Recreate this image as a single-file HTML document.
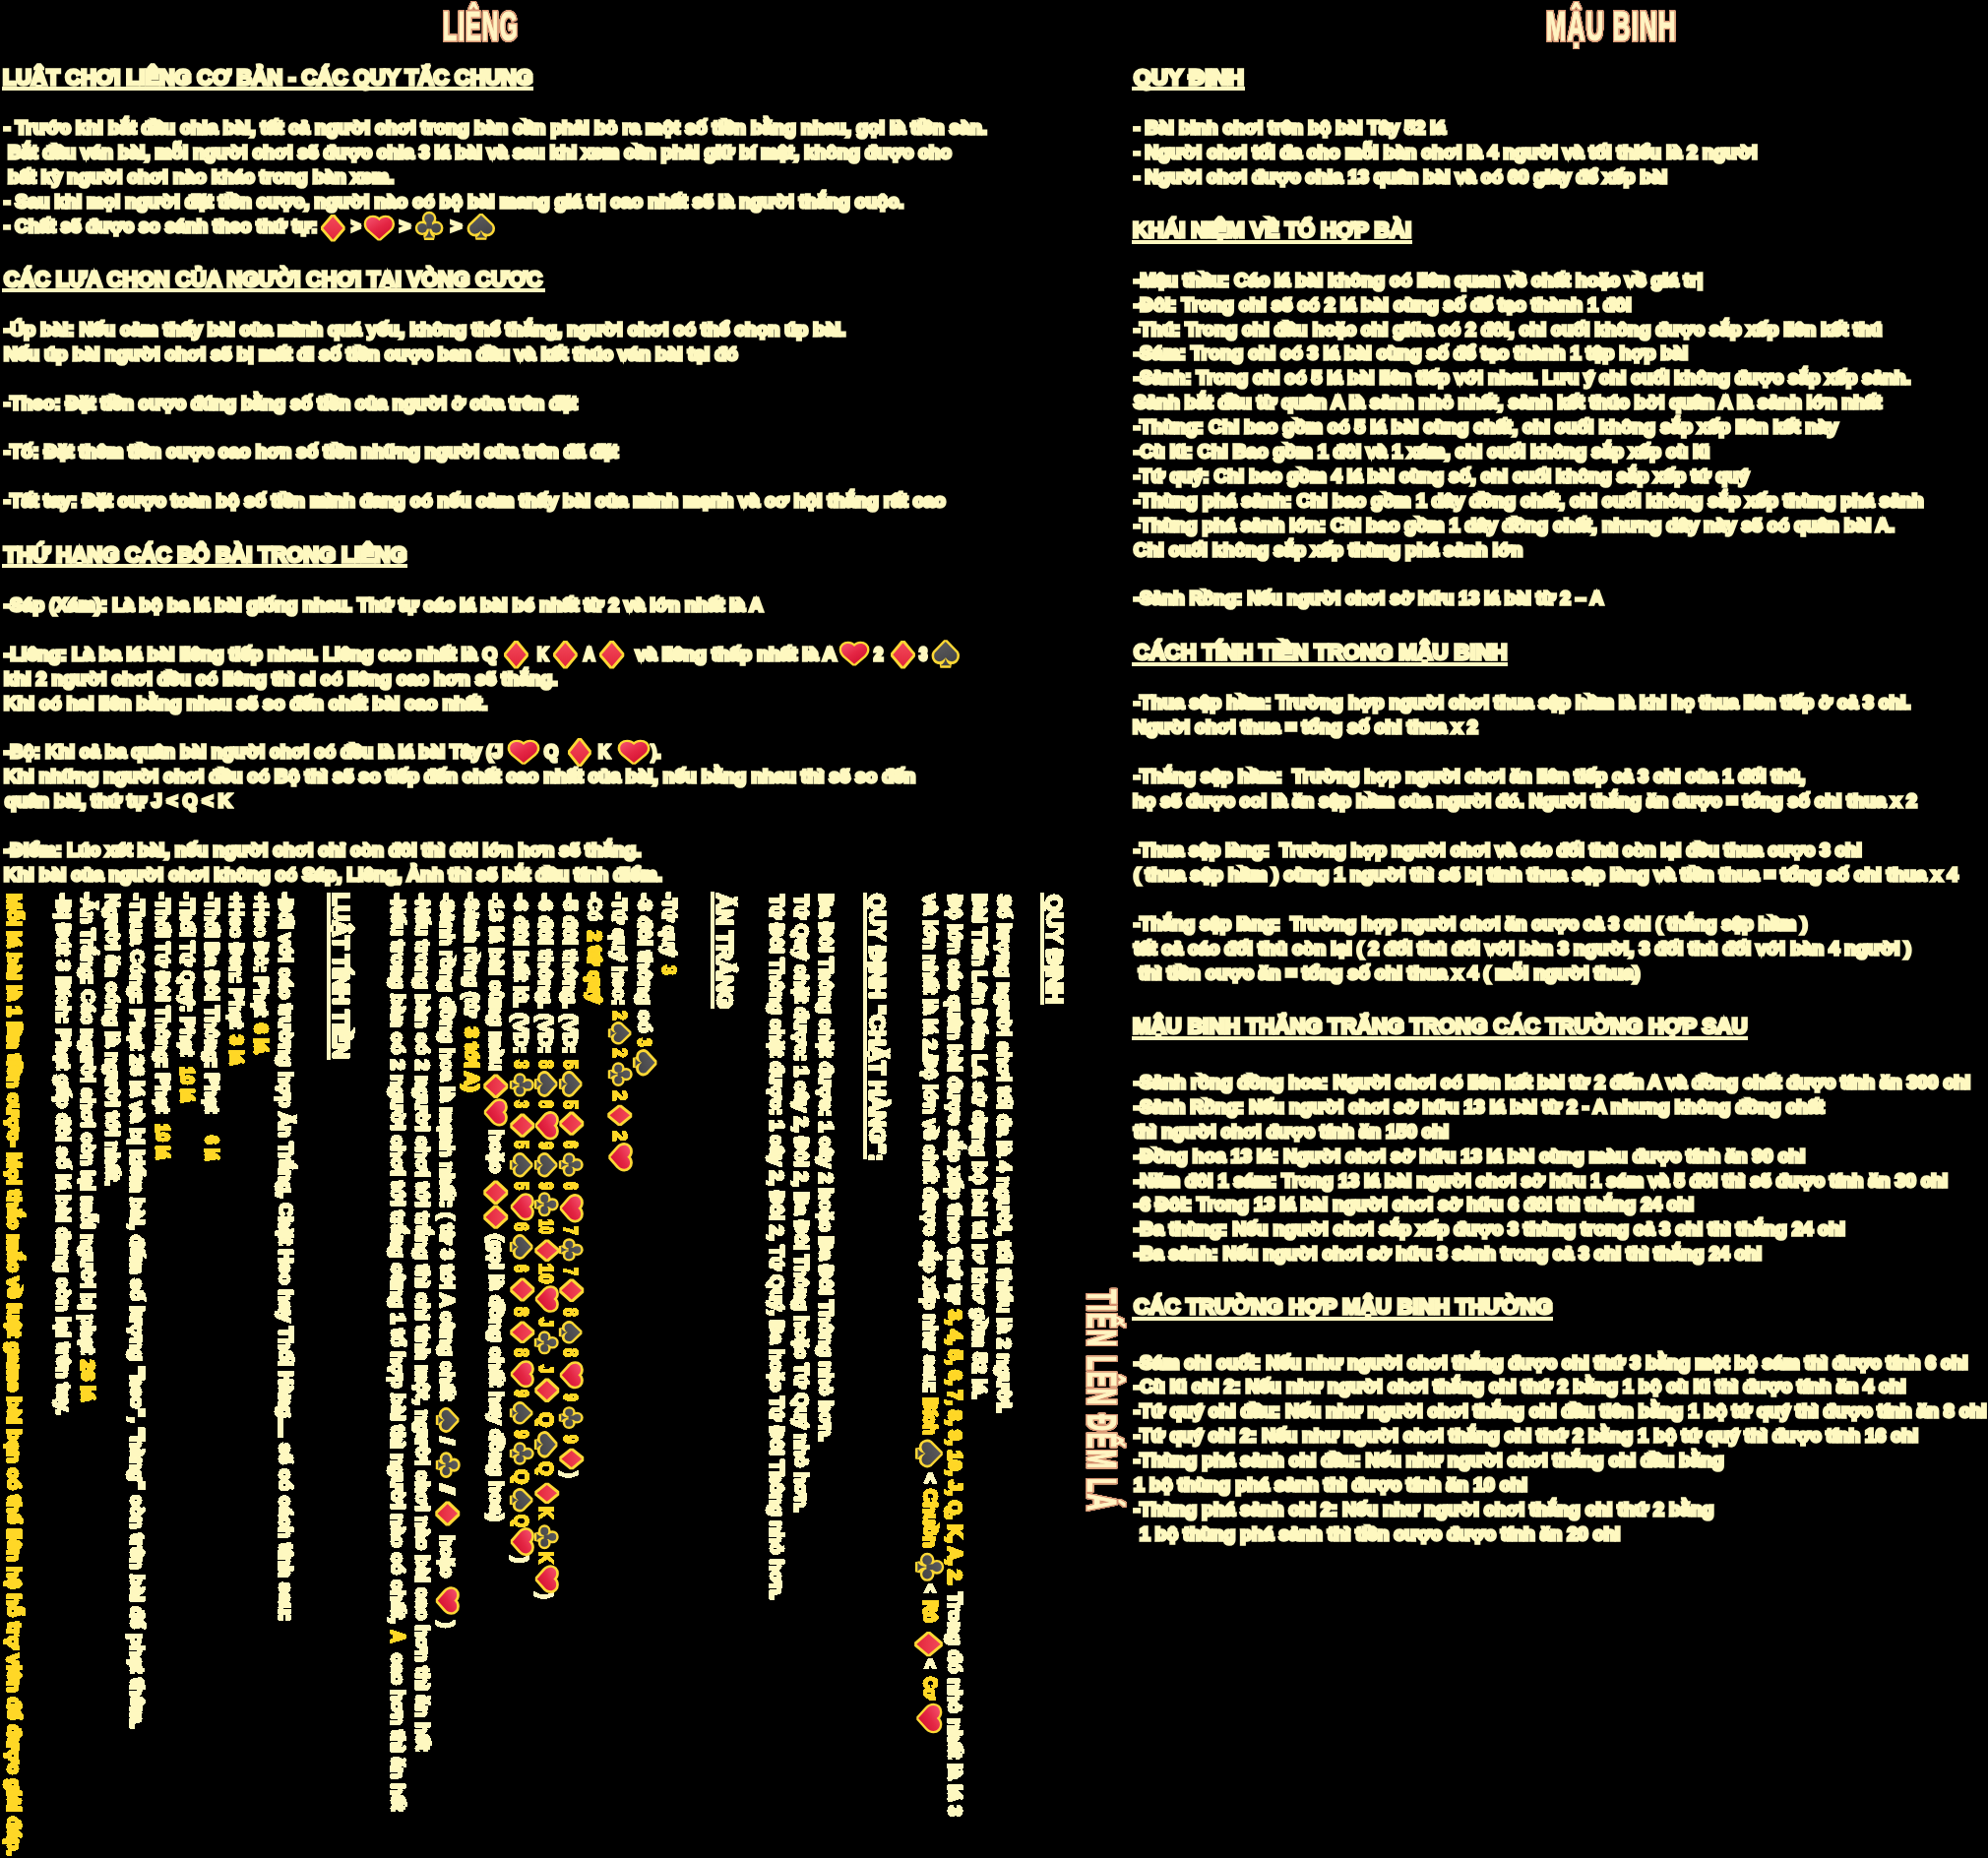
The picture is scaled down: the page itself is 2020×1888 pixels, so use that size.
<!DOCTYPE html>
<html><head><meta charset="utf-8"><title>rules</title><style>
html,body{margin:0;padding:0;background:#000;}
#p{position:relative;width:2020px;height:1888px;overflow:hidden;will-change:transform;font-family:"Liberation Sans",sans-serif;font-weight:bold;}
.t,.tt{position:absolute;white-space:pre;line-height:1;transform-origin:0 0;color:#fef8c0;-webkit-text-stroke:3.4px #fef8c0;}
.t.g{color:#ffd726;-webkit-text-stroke-color:#ffd726;}
#rt .t{-webkit-text-stroke-width:3.0px;}
#rt .t.n{-webkit-text-stroke-width:2.2px;}
.tt{color:#fff5c3;-webkit-text-stroke:1.2px #fff5c3;letter-spacing:2.5px;}
.tw{position:absolute;left:0;top:0;width:0;height:0;filter:drop-shadow(1px 0 0 #d6906f) drop-shadow(-1px 0 0 #d6906f) drop-shadow(0 1px 0 #d6906f) drop-shadow(0 -1px 0 #d6906f) drop-shadow(0.9px 0 0 #f6dcae) drop-shadow(0.8px 0 0 #d6906f);}
.u{position:absolute;height:4px;background:#fef8c0;}
.i{position:absolute;overflow:visible;}
#rt{position:absolute;left:0;top:0;width:1888px;height:1160px;filter:url(#crisp);}
#r{position:absolute;left:1160px;top:0;width:0;height:0;transform-origin:0 0;transform:rotate(90deg);}
</style></head><body>
<div id="p">
<svg width="0" height="0" style="position:absolute">
<defs>
<linearGradient id="gr" x1="0.1" y1="0" x2="0.8" y2="1"><stop offset="0" stop-color="#f4506c"/><stop offset="0.5" stop-color="#e42644"/><stop offset="1" stop-color="#d20f30"/></linearGradient>
<linearGradient id="gd" x1="0" y1="0" x2="0" y2="1"><stop offset="0" stop-color="#f2485a"/><stop offset="1" stop-color="#e3263c"/></linearGradient>
<linearGradient id="gk" gradientUnits="userSpaceOnUse" x1="8" y1="2" x2="18" y2="28"><stop offset="0" stop-color="#5c5c5f"/><stop offset="1" stop-color="#414144"/></linearGradient>
<symbol id="d" overflow="visible" viewBox="0 0 25 28.3" preserveAspectRatio="none"><path d="M12.5 1.8 L23 14.15 L12.5 26.5 L2 14.15 Z" fill="#fdd835" stroke="#fdd835" stroke-width="5.2" stroke-linejoin="bevel"/><path d="M12.5 2.3 L22.7 14.15 L12.5 26 L2.3 14.15 Z" fill="url(#gd)"/></symbol>
<symbol id="h" overflow="visible" viewBox="0 0 31 26.3" preserveAspectRatio="none"><path id="hp" d="M15.5 5.3 C13.6 3 11.6 2.1 9 2.1 C5 2.1 2.1 4.9 2.1 8.6 C2.1 11.2 3.2 13.2 5.2 15.1 L15.5 24.2 L25.8 15.1 C27.8 13.2 28.9 11.2 28.9 8.6 C28.9 4.9 26 2.1 22 2.1 C19.4 2.1 17.4 3 15.5 5.3 Z" fill="#fdd835" stroke="#fdd835" stroke-width="4.9" stroke-linejoin="bevel"/><path d="M15.5 5.3 C13.6 3 11.6 2.1 9 2.1 C5 2.1 2.1 4.9 2.1 8.6 C2.1 11.2 3.2 13.2 5.2 15.1 L15.5 24.2 L25.8 15.1 C27.8 13.2 28.9 11.2 28.9 8.6 C28.9 4.9 26 2.1 22 2.1 C19.4 2.1 17.4 3 15.5 5.3 Z" fill="url(#gr)"/></symbol>
<symbol id="c" overflow="visible" viewBox="0 0 29.4 29.4" preserveAspectRatio="none"><g stroke="#fdd835" stroke-width="4.9" stroke-linejoin="bevel" fill="#fdd835"><circle cx="14.4" cy="7.2" r="5"/><circle cx="7.2" cy="17.2" r="5"/><circle cx="21.6" cy="17.2" r="5"/><path d="M11 10 L18 10 L18 18 L11 18 Z"/><path d="M14.4 16 C14.4 22 12.5 25.6 9.4 27.2 L19.4 27.2 C16.3 25.6 14.4 22 14.4 16 Z"/></g><g fill="url(#gk)"><circle cx="14.4" cy="7.2" r="5"/><circle cx="7.2" cy="17.2" r="5"/><circle cx="21.6" cy="17.2" r="5"/><path d="M11.5 10 L17.3 10 L17.3 18 L11.5 18 Z"/><path d="M14.4 16 C14.4 22 12.5 25.6 9.4 27.2 L19.4 27.2 C16.3 25.6 14.4 22 14.4 16 Z"/></g></symbol>
<symbol id="s" overflow="visible" viewBox="0 0 28.3 28.3" preserveAspectRatio="none"><g stroke="#fdd835" stroke-width="4.9" stroke-linejoin="bevel" fill="#fdd835"><path d="M14.15 2.9 L25.3 13.6 C26.4 15.2 26.4 18 25.2 19.8 C23.8 21.9 21 22.6 18.6 21.8 C16.8 21.2 15.3 20 14.15 18.2 C13 20 11.5 21.2 9.7 21.8 C7.3 22.6 4.5 21.9 3.1 19.8 C1.9 18 1.9 15.2 3 13.6 Z"/><path d="M14.15 17 C14.15 21.5 12.2 24.6 8.6 26 L19.7 26 C16.1 24.6 14.15 21.5 14.15 17 Z"/></g><g fill="url(#gk)"><path d="M14.15 2.9 L25.3 13.6 C26.4 15.2 26.4 18 25.2 19.8 C23.8 21.9 21 22.6 18.6 21.8 C16.8 21.2 15.3 20 14.15 18.2 C13 20 11.5 21.2 9.7 21.8 C7.3 22.6 4.5 21.9 3.1 19.8 C1.9 18 1.9 15.2 3 13.6 Z"/><path d="M14.15 17 C14.15 21.5 12.2 24.6 8.6 26 L19.7 26 C16.1 24.6 14.15 21.5 14.15 17 Z"/></g></symbol>
<symbol id="d2" overflow="visible" viewBox="0 0 25 28.3" preserveAspectRatio="none"><path d="M12.5 1.8 L23 14.15 L12.5 26.5 L2 14.15 Z" fill="#fdd835" stroke="#fdd835" stroke-width="6.4" stroke-linejoin="bevel"/><path d="M12.5 2.3 L22.7 14.15 L12.5 26 L2.3 14.15 Z" fill="url(#gd)"/></symbol>
<symbol id="h2" overflow="visible" viewBox="0 0 31 26.3" preserveAspectRatio="none"><path d="M15.5 5.3 C13.6 3 11.6 2.1 9 2.1 C5 2.1 2.1 4.9 2.1 8.6 C2.1 11.2 3.2 13.2 5.2 15.1 L15.5 24.2 L25.8 15.1 C27.8 13.2 28.9 11.2 28.9 8.6 C28.9 4.9 26 2.1 22 2.1 C19.4 2.1 17.4 3 15.5 5.3 Z" fill="#fdd835" stroke="#fdd835" stroke-width="6.2" stroke-linejoin="bevel"/><path d="M15.5 5.3 C13.6 3 11.6 2.1 9 2.1 C5 2.1 2.1 4.9 2.1 8.6 C2.1 11.2 3.2 13.2 5.2 15.1 L15.5 24.2 L25.8 15.1 C27.8 13.2 28.9 11.2 28.9 8.6 C28.9 4.9 26 2.1 22 2.1 C19.4 2.1 17.4 3 15.5 5.3 Z" fill="url(#gr)"/></symbol>
<symbol id="c2" overflow="visible" viewBox="0 0 29.4 29.4" preserveAspectRatio="none"><g stroke="#fdd835" stroke-width="6.2" stroke-linejoin="bevel" fill="#fdd835"><circle cx="14.4" cy="7.2" r="5"/><circle cx="7.2" cy="17.2" r="5"/><circle cx="21.6" cy="17.2" r="5"/><path d="M11 10 L18 10 L18 18 L11 18 Z"/><path d="M14.4 16 C14.4 22 12.5 25.6 9.4 27.2 L19.4 27.2 C16.3 25.6 14.4 22 14.4 16 Z"/></g><g fill="url(#gk)"><circle cx="14.4" cy="7.2" r="5"/><circle cx="7.2" cy="17.2" r="5"/><circle cx="21.6" cy="17.2" r="5"/><path d="M11.5 10 L17.3 10 L17.3 18 L11.5 18 Z"/><path d="M14.4 16 C14.4 22 12.5 25.6 9.4 27.2 L19.4 27.2 C16.3 25.6 14.4 22 14.4 16 Z"/></g></symbol>
<symbol id="s2" overflow="visible" viewBox="0 0 28.3 28.3" preserveAspectRatio="none"><g stroke="#fdd835" stroke-width="6.2" stroke-linejoin="bevel" fill="#fdd835"><path d="M14.15 2.9 L25.3 13.6 C26.4 15.2 26.4 18 25.2 19.8 C23.8 21.9 21 22.6 18.6 21.8 C16.8 21.2 15.3 20 14.15 18.2 C13 20 11.5 21.2 9.7 21.8 C7.3 22.6 4.5 21.9 3.1 19.8 C1.9 18 1.9 15.2 3 13.6 Z"/><path d="M14.15 17 C14.15 21.5 12.2 24.6 8.6 26 L19.7 26 C16.1 24.6 14.15 21.5 14.15 17 Z"/></g><g fill="url(#gk)"><path d="M14.15 2.9 L25.3 13.6 C26.4 15.2 26.4 18 25.2 19.8 C23.8 21.9 21 22.6 18.6 21.8 C16.8 21.2 15.3 20 14.15 18.2 C13 20 11.5 21.2 9.7 21.8 C7.3 22.6 4.5 21.9 3.1 19.8 C1.9 18 1.9 15.2 3 13.6 Z"/><path d="M14.15 17 C14.15 21.5 12.2 24.6 8.6 26 L19.7 26 C16.1 24.6 14.15 21.5 14.15 17 Z"/></g></symbol>
<filter id="crisp" x="0" y="0" width="100%" height="100%" color-interpolation-filters="sRGB"><feComponentTransfer><feFuncA type="discrete" tableValues="0 1"/></feComponentTransfer></filter>
</defs></svg>
<div class="t" style="left:2.69px;top:67.58px;font-size:22px;transform:scaleX(0.9824)">LUẬT CHƠI LIÊNG CƠ BẢN - CÁC QUY TẮC CHUNG</div>
<div class="u" style="left:2.00px;top:88.10px;width:540.00px"></div>
<div class="t" style="left:4.21px;top:119.92px;font-size:19px;transform:scaleX(1.0050)">- Trước khi bắt đầu chia bài, tất cả người chơi trong bàn cần phải bỏ ra một số tiền bằng nhau, gọi là tiền sàn.</div>
<div class="t" style="left:8.29px;top:144.82px;font-size:19px;transform:scaleX(0.9909)">Bắt đầu ván bài, mỗi người chơi sẽ được chia 3 lá bài và sau khi xem cần phải giữ bí mật, không được cho</div>
<div class="t" style="left:8.30px;top:169.72px;font-size:19px;transform:scaleX(1.0025)">bất kỳ người chơi nào khác trong bàn xem.</div>
<div class="t" style="left:4.20px;top:194.62px;font-size:19px;transform:scaleX(0.9975)">- Sau khi mọi người đặt tiền cược, người nào có bộ bài mang giá trị cao nhất sẽ là người thắng cuộc.</div>
<div class="t" style="left:4.16px;top:219.52px;font-size:19px;transform:scaleX(0.9767)">- Chất sẽ được so sánh theo thứ tự:</div>
<svg class="i" style="left:326.00px;top:218.00px" width="24.70" height="27.70" viewBox="0 0 25 28.3" preserveAspectRatio="none"><use href="#d"/></svg>
<div class="t" style="left:357.13px;top:219.52px;font-size:19px;transform:scaleX(0.8403)">&gt;</div>
<svg class="i" style="left:370.30px;top:219.00px" width="30.70" height="25.70" viewBox="0 0 31 26.3" preserveAspectRatio="none"><use href="#h"/></svg>
<div class="t" style="left:405.65px;top:219.52px;font-size:19px;transform:scaleX(0.9722)">&gt;</div>
<svg class="i" style="left:422.00px;top:215.00px" width="28.80" height="28.70" viewBox="0 0 29.4 29.4" preserveAspectRatio="none"><use href="#c"/></svg>
<div class="t" style="left:458.48px;top:219.52px;font-size:19px;transform:scaleX(0.9861)">&gt;</div>
<svg class="i" style="left:475.00px;top:216.00px" width="27.60" height="27.70" viewBox="0 0 28.3 28.3" preserveAspectRatio="none"><use href="#s"/></svg>
<div class="t" style="left:3.67px;top:272.68px;font-size:22px;transform:scaleX(0.9824)">CÁC LỰA CHỌN CỦA NGƯỜI CHƠI TẠI VÒNG CƯỢC</div>
<div class="u" style="left:2.00px;top:293.20px;width:552.00px"></div>
<div class="t" style="left:4.22px;top:324.92px;font-size:19px;transform:scaleX(1.0095)">-Úp bài: Nếu cảm thấy bài của mình quá yếu, không thể thắng, người chơi có thể chọn úp bài.</div>
<div class="t" style="left:3.70px;top:349.82px;font-size:19px;transform:scaleX(1.0027)">Nếu úp bài người chơi sẽ bị mất đi số tiền cược ban đầu và kết thúc ván bài tại đó</div>
<div class="t" style="left:4.18px;top:399.62px;font-size:19px;transform:scaleX(0.9897)">-Theo: Đặt tiền cược đúng bằng số tiền của người ở cửa trên đặt</div>
<div class="t" style="left:4.18px;top:449.42px;font-size:19px;transform:scaleX(0.9894)">-Tố: Đặt thêm tiền cược cao hơn số tiền những người cửa trên đã đặt</div>
<div class="t" style="left:4.21px;top:499.22px;font-size:19px;transform:scaleX(1.0062)">-Tất tay: Đặt cược toàn bộ số tiền mình đang có nếu cảm thấy bài của mình mạnh và cơ hội thắng rất cao</div>
<div class="t" style="left:3.68px;top:552.58px;font-size:22px;transform:scaleX(0.9882)">THỨ HẠNG CÁC BỘ BÀI TRONG LIÊNG</div>
<div class="u" style="left:2.00px;top:573.10px;width:411.60px"></div>
<div class="t" style="left:4.19px;top:604.92px;font-size:19px;transform:scaleX(0.9949)">-Sáp (Xám): Là bộ ba lá bài giống nhau. Thứ tự các lá bài bé nhất từ 2 và lớn nhất là A</div>
<div class="t" style="left:4.21px;top:654.72px;font-size:19px;transform:scaleX(1.0077)">-Liêng: Là ba lá bài liêng tiếp nhau. Liêng cao nhất là Q</div>
<svg class="i" style="left:511.90px;top:650.50px" width="24.90" height="28.70" viewBox="0 0 25 28.3" preserveAspectRatio="none"><use href="#d"/></svg>
<div class="t" style="left:545.96px;top:654.72px;font-size:19px;transform:scaleX(0.7988)">K</div>
<svg class="i" style="left:562.40px;top:650.50px" width="24.80" height="28.70" viewBox="0 0 25 28.3" preserveAspectRatio="none"><use href="#d"/></svg>
<div class="t" style="left:592.61px;top:654.72px;font-size:19px;transform:scaleX(0.8276)">A</div>
<svg class="i" style="left:609.00px;top:650.50px" width="25.30" height="28.70" viewBox="0 0 25 28.3" preserveAspectRatio="none"><use href="#d"/></svg>
<div class="t" style="left:646.03px;top:654.72px;font-size:19px;transform:scaleX(1.0150)">và liêng thấp nhất là A</div>
<svg class="i" style="left:852.70px;top:651.80px" width="30.10" height="24.80" viewBox="0 0 31 26.3" preserveAspectRatio="none"><use href="#h"/></svg>
<div class="t" style="left:887.70px;top:654.72px;font-size:19px;transform:scaleX(0.8806)">2</div>
<svg class="i" style="left:905.00px;top:650.50px" width="25.00" height="28.70" viewBox="0 0 25 28.3" preserveAspectRatio="none"><use href="#d"/></svg>
<div class="t" style="left:933.83px;top:654.72px;font-size:19px;transform:scaleX(0.7836)">3</div>
<svg class="i" style="left:947.40px;top:649.00px" width="27.60" height="29.70" viewBox="0 0 28.3 28.3" preserveAspectRatio="none"><use href="#s"/></svg>
<div class="t" style="left:3.70px;top:679.62px;font-size:19px;transform:scaleX(1.0007)">khi 2 người chơi đều có liêng thì ai có liêng cao hơn sẽ thắng.</div>
<div class="t" style="left:3.70px;top:704.52px;font-size:19px;transform:scaleX(1.0050)">Khi có hai liên bằng nhau sẽ so đến chất bài cao nhất.</div>
<div class="t" style="left:4.16px;top:754.32px;font-size:19px;transform:scaleX(0.9744)">-Bộ: Khi cả ba quân bài người chơi có đều là lá bài Tây (J</div>
<svg class="i" style="left:515.80px;top:751.50px" width="32.00" height="25.00" viewBox="0 0 31 26.3" preserveAspectRatio="none"><use href="#h"/></svg>
<div class="t" style="left:552.93px;top:754.32px;font-size:19px;transform:scaleX(0.9598)">Q</div>
<svg class="i" style="left:576.70px;top:750.00px" width="23.90" height="29.00" viewBox="0 0 25 28.3" preserveAspectRatio="none"><use href="#d"/></svg>
<div class="t" style="left:607.60px;top:754.32px;font-size:19px;transform:scaleX(0.8537)">K</div>
<svg class="i" style="left:627.50px;top:751.50px" width="32.10" height="25.00" viewBox="0 0 31 26.3" preserveAspectRatio="none"><use href="#h"/></svg>
<div class="t" style="left:661.89px;top:754.32px;font-size:19px;transform:scaleX(0.8159)">).</div>
<div class="t" style="left:3.70px;top:779.22px;font-size:19px;transform:scaleX(0.9997)">Khi những người chơi đều có Bộ thì sẽ so tiếp đến chất cao nhất của bài, nếu bằng nhau thì sẽ so đến</div>
<div class="t" style="left:4.68px;top:804.12px;font-size:19px;transform:scaleX(0.9862)">quân bài, thứ tự J &lt; Q &lt; K</div>
<div class="t" style="left:4.19px;top:853.92px;font-size:19px;transform:scaleX(0.9969)">-Điểm: Lúc xét bài, nếu người chơi chỉ còn đôi thì đôi lớn hơn sẽ thắng.</div>
<div class="t" style="left:3.70px;top:878.82px;font-size:19px;transform:scaleX(0.9984)">Khi bài của người chơi không có Sáp, Liêng, Ảnh thì sẽ bắt đầu tính điểm.</div>
<div class="t" style="left:1151.78px;top:67.58px;font-size:22px;transform:scaleX(1.0448)">QUY ĐỊNH</div>
<div class="u" style="left:1150.00px;top:88.10px;width:115.00px"></div>
<div class="t" style="left:1151.68px;top:119.92px;font-size:19px;transform:scaleX(0.9884)">- Bài binh chơi trên bộ bài Tây 52 lá</div>
<div class="t" style="left:1151.69px;top:144.82px;font-size:19px;transform:scaleX(0.9949)">- Người chơi tối đa cho mỗi bàn chơi là 4 người và tối thiểu là 2 người</div>
<div class="t" style="left:1151.69px;top:169.72px;font-size:19px;transform:scaleX(0.9937)">- Người chơi được chia 13 quân bài và có 60 giây để xếp bài</div>
<div class="t" style="left:1150.69px;top:222.98px;font-size:22px;transform:scaleX(0.9891)">KHÁI NIỆM VỀ TỔ HỢP BÀI</div>
<div class="u" style="left:1150.00px;top:243.50px;width:284.60px"></div>
<div class="t" style="left:1151.72px;top:274.72px;font-size:19px;transform:scaleX(1.0102)">-Mậu thầu: Các lá bài không có liên quan về chất hoặc về giá trị</div>
<div class="t" style="left:1151.71px;top:299.62px;font-size:19px;transform:scaleX(1.0042)">-Đôi: Trong chi sẽ có 2 lá bài cùng số để tạo thành 1 đôi</div>
<div class="t" style="left:1151.69px;top:324.52px;font-size:19px;transform:scaleX(0.9950)">-Thú: Trong chi đầu hoặc chi giữa có 2 đôi, chi cuối không được sắp xếp liên kết thú</div>
<div class="t" style="left:1151.71px;top:349.42px;font-size:19px;transform:scaleX(1.0031)">-Sám: Trong chi có 3 lá bài cùng số để tạo thành 1 tập hợp bài</div>
<div class="t" style="left:1151.68px;top:374.32px;font-size:19px;transform:scaleX(0.9896)">-Sảnh: Trong chi có 5 lá bài liên tiếp với nhau. Lưu ý chi cuối không được sắp xếp sảnh.</div>
<div class="t" style="left:1151.70px;top:399.22px;font-size:19px;transform:scaleX(1.0025)">Sảnh bắt đầu từ quân A là sảnh nhỏ nhất, sảnh kết thúc bởi quân A là sảnh lớn nhất</div>
<div class="t" style="left:1151.71px;top:424.12px;font-size:19px;transform:scaleX(1.0039)">-Thùng: Chi bao gồm có 5 lá bài cùng chất, chi cuối không sắp xếp liên kết này</div>
<div class="t" style="left:1151.69px;top:449.02px;font-size:19px;transform:scaleX(0.9950)">-Cù lũ: Chi Bao gồm 1 đôi và 1 xám, chi cuối không sắp xếp cù lũ</div>
<div class="t" style="left:1151.69px;top:473.92px;font-size:19px;transform:scaleX(0.9914)">-Tứ quý: Chi bao gồm 4 lá bài cùng số, chi cuối không sắp xếp tứ quý</div>
<div class="t" style="left:1151.71px;top:498.82px;font-size:19px;transform:scaleX(1.0068)">-Thùng phá sảnh: Chi bao gồm 1 dây đồng chất, chi cuối không sắp xếp thùng phá sảnh</div>
<div class="t" style="left:1151.70px;top:523.72px;font-size:19px;transform:scaleX(1.0001)">-Thùng phá sảnh lớn: Chi bao gồm 1 dây đồng chất, nhưng dây này sẽ có quân bài A.</div>
<div class="t" style="left:1151.70px;top:548.62px;font-size:19px;transform:scaleX(0.9984)">Chi cuối không sắp xếp thùng phá sảnh lớn</div>
<div class="t" style="left:1151.66px;top:598.42px;font-size:19px;transform:scaleX(0.9767)">-Sảnh Rồng: Nếu người chơi sở hữu 13 lá bài từ 2 – A</div>
<div class="t" style="left:1151.70px;top:652.28px;font-size:22px;transform:scaleX(1.0016)">CÁCH TÍNH TIỀN TRONG MẬU BINH</div>
<div class="u" style="left:1150.00px;top:672.80px;width:382.00px"></div>
<div class="t" style="left:1151.69px;top:704.42px;font-size:19px;transform:scaleX(0.9931)">-Thua sập hầm: Trường hợp người chơi thua sập hầm là khi họ thua liên tiếp ở cả 3 chi.</div>
<div class="t" style="left:1150.70px;top:729.32px;font-size:19px;transform:scaleX(1.0032)">Người chơi thua = tổng số chi thua x 2</div>
<div class="t" style="left:1151.69px;top:779.12px;font-size:19px;transform:scaleX(0.9923)">-Thắng sập hầm: &nbsp;Trường hợp người chơi ăn liên tiếp cả 3 chi của 1 đối thủ,</div>
<div class="t" style="left:1150.69px;top:804.02px;font-size:19px;transform:scaleX(0.9918)">họ sẽ được coi là ăn sập hầm của người đó. Người thắng ăn được = tổng số chi thua x 2</div>
<div class="t" style="left:1151.67px;top:853.92px;font-size:19px;transform:scaleX(0.9826)">-Thua sập làng: &nbsp;Trường hợp người chơi và các đối thủ còn lại đều thua cược 3 chi</div>
<div class="t" style="left:1151.72px;top:878.82px;font-size:19px;transform:scaleX(1.0102)">( thua sập hầm ) cùng 1 người thì sẽ bị tính thua sập làng và tiền thua = tổng số chi thua x 4</div>
<div class="t" style="left:1151.66px;top:928.82px;font-size:19px;transform:scaleX(0.9793)">-Thắng sập làng: &nbsp;Trường hợp người chơi ăn cược cả 3 chi ( thắng sập hầm )</div>
<div class="t" style="left:1151.71px;top:953.72px;font-size:19px;transform:scaleX(1.0041)">tất cả các đối thủ còn lại ( 2 đối thủ đối với bàn 3 người, 3 đối thủ đối với bàn 4 người )</div>
<div class="t" style="left:1157.01px;top:978.62px;font-size:19px;transform:scaleX(1.0050)">thì tiền cược ăn = tổng số chi thua x 4 ( mỗi người thua)</div>
<div class="t" style="left:1150.69px;top:1032.18px;font-size:22px;transform:scaleX(0.9897)">MẬU BINH THẮNG TRẮNG TRONG CÁC TRƯỜNG HỢP SAU</div>
<div class="u" style="left:1150.00px;top:1052.70px;width:626.40px"></div>
<div class="t" style="left:1151.70px;top:1089.92px;font-size:19px;transform:scaleX(1.0002)">-Sảnh rồng đồng hoa: Người chơi có liên kết bài từ 2 đến A và đồng chất được tính ăn 300 chi</div>
<div class="t" style="left:1151.69px;top:1114.82px;font-size:19px;transform:scaleX(0.9917)">-Sảnh Rồng: Nếu người chơi sở hữu 13 lá bài từ 2 - A nhưng không đồng chất</div>
<div class="t" style="left:1151.69px;top:1139.72px;font-size:19px;transform:scaleX(0.9927)">thì người chơi được tính ăn 150 chi</div>
<div class="t" style="left:1151.69px;top:1164.62px;font-size:19px;transform:scaleX(0.9952)">-Đồng hoa 13 lá: Người chơi sở hữu 13 lá bài cùng màu được tính ăn 90 chi</div>
<div class="t" style="left:1151.68px;top:1189.52px;font-size:19px;transform:scaleX(0.9900)">-Năm đôi 1 sám: Trong 13 lá bài người chơi sở hữu 1 sám và 5 đôi thì sẽ được tính ăn 30 chi</div>
<div class="t" style="left:1151.70px;top:1214.42px;font-size:19px;transform:scaleX(0.9975)">-6 Đôi: Trong 13 lá bài người chơi sở hữu 6 đôi thì thắng 24 chi</div>
<div class="t" style="left:1151.70px;top:1239.32px;font-size:19px;transform:scaleX(1.0019)">-Ba thùng: Nếu người chơi sắp xếp được 3 thùng trong cả 3 chi thì thắng 24 chi</div>
<div class="t" style="left:1151.68px;top:1264.22px;font-size:19px;transform:scaleX(0.9882)">-Ba sảnh: Nếu người chơi sở hữu 3 sảnh trong cả 3 chi thì thắng 24 chi</div>
<div class="t" style="left:1151.68px;top:1317.28px;font-size:22px;transform:scaleX(0.9898)">CÁC TRƯỜNG HỢP MẬU BINH THƯỜNG</div>
<div class="u" style="left:1150.00px;top:1337.80px;width:428.00px"></div>
<div class="t" style="left:1151.69px;top:1374.52px;font-size:19px;transform:scaleX(0.9944)">-Sám chi cuối: Nếu như người chơi thắng được chi thứ 3 bằng một bộ sám thì được tính 6 chi</div>
<div class="t" style="left:1151.70px;top:1399.42px;font-size:19px;transform:scaleX(0.9983)">-Cù lũ chi 2: Nếu như người chơi thắng chi thứ 2 bằng 1 bộ cù lũ thì được tính ăn 4 chi</div>
<div class="t" style="left:1151.70px;top:1424.32px;font-size:19px;transform:scaleX(1.0003)">-Tứ quý chi đầu: Nếu như người chơi thắng chi đầu tiên bằng 1 bộ tứ quý thì được tính ăn 8 chi</div>
<div class="t" style="left:1151.69px;top:1449.22px;font-size:19px;transform:scaleX(0.9952)">-Tứ quý chi 2: Nếu như người chơi thắng chi thứ 2 bằng 1 bộ tứ quý thì được tính 16 chi</div>
<div class="t" style="left:1151.69px;top:1474.12px;font-size:19px;transform:scaleX(0.9970)">-Thùng phá sảnh chi đầu: Nếu như người chơi thắng chi đầu bằng</div>
<div class="t" style="left:1151.71px;top:1499.02px;font-size:19px;transform:scaleX(1.0104)">1 bộ thùng phá sảnh thì được tính ăn 10 chi</div>
<div class="t" style="left:1151.69px;top:1523.92px;font-size:19px;transform:scaleX(0.9956)">-Thùng phá sảnh chi 2: Nếu như người chơi thắng chi thứ 2 bằng</div>
<div class="t" style="left:1157.70px;top:1548.82px;font-size:19px;transform:scaleX(0.9997)">1 bộ thùng phá sảnh thì tiền cược được tính ăn 20 chi</div>
<div class="tw"><div class="tt" style="left:450.06px;top:5.85px;font-size:42px;transform:scaleX(0.5473)">LIÊNG</div></div>
<div class="tw"><div class="tt" style="left:1570.59px;top:5.85px;font-size:42px;transform:scaleX(0.5785)">MẬU BINH</div></div>
<div id="r">
<div id="rt">
<div class="t" style="left:908.56px;top:77.88px;font-size:22px;transform:scaleX(1.0394)">QUY ĐỊNH</div>
<div class="u" style="left:907.00px;top:98.70px;width:114.00px"></div>
<div class="t" style="left:909.28px;top:130.12px;font-size:19px;transform:scaleX(0.9859)">Số lượng người chơi tối đa là 4 người, tối thiểu là 2 người.</div>
<div class="t" style="left:908.30px;top:155.22px;font-size:19px;transform:scaleX(0.9967)">Bài Tiến Lên Đếm Lá sử dụng bộ bài tú lơ khơ gồm 52 lá.</div>
<div class="t" style="left:909.29px;top:180.32px;font-size:19px;transform:scaleX(0.9908)">Độ lớn các quân bài được sắp xếp theo thứ tự</div>
<div class="t g" style="left:1331.45px;top:180.32px;font-size:19px;transform:scaleX(0.9653)">3, 4, 5, 6, 7, 8, 9, 10, J, Q, K, A, 2.</div>
<div class="t" style="left:1617.52px;top:180.32px;font-size:19px;transform:scaleX(1.0120)">Trong đó nhỏ nhất là lá 3</div>
<div class="t" style="left:909.28px;top:205.42px;font-size:19px;transform:scaleX(0.9842)">và lớn nhất là lá 2.Độ lớn về chất được sắp xếp như sau:</div>
<div class="t g" style="left:1420.16px;top:205.42px;font-size:19px;transform:scaleX(0.9233)">Bích</div>
<div class="t" style="left:1496.93px;top:205.42px;font-size:19px;transform:scaleX(0.8857)">&lt;</div>
<div class="t g" style="left:1513.49px;top:205.42px;font-size:19px;transform:scaleX(0.9914)">Chuồn</div>
<div class="t" style="left:1609.87px;top:205.42px;font-size:19px;transform:scaleX(0.7786)">&lt;</div>
<div class="t g" style="left:1626.45px;top:205.42px;font-size:19px;transform:scaleX(0.8982)">Rô</div>
<div class="t" style="left:1686.29px;top:205.42px;font-size:19px;transform:scaleX(0.8571)">&lt;</div>
<div class="t g" style="left:1703.86px;top:205.42px;font-size:19px;transform:scaleX(0.8431)">Cơ</div>
<div class="t" style="left:908.49px;top:258.08px;font-size:22px;transform:scaleX(0.9945)">QUY ĐỊNH "CHẶT HÀNG":</div>
<div class="u" style="left:907.00px;top:278.90px;width:271.00px"></div>
<div class="t" style="left:908.29px;top:311.12px;font-size:19px;transform:scaleX(0.9884)">Ba Đôi Thông chặt được: 1 cây 2 hoặc Ba Đôi Thông nhỏ hơn.</div>
<div class="t" style="left:909.27px;top:336.02px;font-size:19px;transform:scaleX(0.9772)">Tứ Quý chặt được: 1 cây 2, Đôi 2, Ba Đôi Thông hoặc Tứ Quý nhỏ hơn.</div>
<div class="t" style="left:909.26px;top:361.02px;font-size:19px;transform:scaleX(0.9742)">Tứ Đôi Thông chặt được: 1 cây 2, Đôi 2, Tứ Quý, Ba hoặc Tứ Đôi Thông nhỏ hơn.</div>
<div class="t" style="left:907.51px;top:413.48px;font-size:22px;transform:scaleX(1.0060)">ĂN TRẮNG</div>
<div class="u" style="left:906.00px;top:434.30px;width:118.70px"></div>
<div class="t" style="left:907.37px;top:470.22px;font-size:19px;transform:scaleX(0.9140)">-Tứ quý</div>
<div class="t n g" style="left:981.34px;top:469.77px;font-size:20px;transform:scaleX(0.8561)">3</div>
<div class="t" style="left:907.56px;top:495.42px;font-size:19px;transform:scaleX(1.0394)">-3 đôi thông có</div>
<div class="t n g" style="left:1054.83px;top:494.97px;font-size:20px;transform:scaleX(0.7576)">3</div>
<div class="t" style="left:907.48px;top:520.62px;font-size:19px;transform:scaleX(0.9847)">-Tứ quý heo:</div>
<div class="t n g" style="left:1026.55px;top:520.17px;font-size:20px;transform:scaleX(0.8636)">2</div>
<div class="t n g" style="left:1065.24px;top:520.17px;font-size:20px;transform:scaleX(0.8561)">2</div>
<div class="t n g" style="left:1107.73px;top:520.17px;font-size:20px;transform:scaleX(0.9318)">2</div>
<div class="t n g" style="left:1149.03px;top:520.17px;font-size:20px;transform:scaleX(0.9318)">2</div>
<div class="t" style="left:907.37px;top:545.72px;font-size:19px;transform:scaleX(0.9105)">-Có</div>
<div class="t g" style="left:946.06px;top:545.72px;font-size:19px;transform:scaleX(0.9742)">2 tứ quý</div>
<div class="t" style="left:907.54px;top:570.82px;font-size:19px;transform:scaleX(1.0252)">-5 đôi thông. (VD:</div>
<div class="t n g" style="left:1077.14px;top:570.37px;font-size:20px;transform:scaleX(0.8561)">5</div>
<div class="t n g" style="left:1118.28px;top:570.37px;font-size:20px;transform:scaleX(0.7955)">5</div>
<div class="t n g" style="left:1159.31px;top:570.37px;font-size:20px;transform:scaleX(0.7348)">6</div>
<div class="t n g" style="left:1200.51px;top:570.37px;font-size:20px;transform:scaleX(0.7348)">6</div>
<div class="t n g" style="left:1245.87px;top:570.37px;font-size:20px;transform:scaleX(0.7879)">7</div>
<div class="t n g" style="left:1288.31px;top:570.37px;font-size:20px;transform:scaleX(0.7348)">7</div>
<div class="t n g" style="left:1328.86px;top:570.37px;font-size:20px;transform:scaleX(0.7803)">8</div>
<div class="t n g" style="left:1370.27px;top:570.37px;font-size:20px;transform:scaleX(0.7879)">8</div>
<div class="t n g" style="left:1416.38px;top:570.37px;font-size:20px;transform:scaleX(0.7121)">9</div>
<div class="t n g" style="left:1457.87px;top:570.37px;font-size:20px;transform:scaleX(0.7879)">9</div>
<div class="t" style="left:1495.95px;top:570.82px;font-size:19px;transform:scaleX(0.8333)">)</div>
<div class="t" style="left:907.54px;top:595.82px;font-size:19px;transform:scaleX(1.0252)">-6 đôi thông. (VD:</div>
<div class="t n g" style="left:1076.89px;top:595.37px;font-size:20px;transform:scaleX(0.8106)">8</div>
<div class="t n g" style="left:1118.20px;top:595.37px;font-size:20px;transform:scaleX(0.7273)">8</div>
<div class="t n g" style="left:1160.20px;top:595.37px;font-size:20px;transform:scaleX(0.7273)">9</div>
<div class="t n g" style="left:1200.51px;top:595.37px;font-size:20px;transform:scaleX(0.7348)">9</div>
<div class="t n g" style="left:1238.57px;top:595.37px;font-size:20px;transform:scaleX(0.6732)">10</div>
<div class="t n g" style="left:1283.79px;top:595.37px;font-size:20px;transform:scaleX(0.9133)">10</div>
<div class="t n g" style="left:1338.95px;top:595.37px;font-size:20px;transform:scaleX(0.8607)">J</div>
<div class="t n g" style="left:1387.25px;top:595.37px;font-size:20px;transform:scaleX(0.7705)">J</div>
<div class="t n g" style="left:1434.58px;top:595.37px;font-size:20px;transform:scaleX(0.9826)">Q</div>
<div class="t n g" style="left:1485.02px;top:595.37px;font-size:20px;transform:scaleX(0.9302)">Q</div>
<div class="t n g" style="left:1531.08px;top:595.37px;font-size:20px;transform:scaleX(0.8395)">K</div>
<div class="t n g" style="left:1576.58px;top:595.37px;font-size:20px;transform:scaleX(0.8086)">K</div>
<div class="t" style="left:1618.95px;top:595.82px;font-size:19px;transform:scaleX(0.8333)">)</div>
<div class="t" style="left:907.57px;top:620.92px;font-size:19px;transform:scaleX(1.0456)">-6 đôi bất kì. (VD:</div>
<div class="t n g" style="left:1076.89px;top:620.47px;font-size:20px;transform:scaleX(0.8106)">3</div>
<div class="t n g" style="left:1118.20px;top:620.47px;font-size:20px;transform:scaleX(0.7273)">3</div>
<div class="t n g" style="left:1159.31px;top:620.47px;font-size:20px;transform:scaleX(0.7348)">5</div>
<div class="t n g" style="left:1200.51px;top:620.47px;font-size:20px;transform:scaleX(0.7348)">5</div>
<div class="t n g" style="left:1241.88px;top:620.47px;font-size:20px;transform:scaleX(0.7955)">6</div>
<div class="t n g" style="left:1284.78px;top:620.47px;font-size:20px;transform:scaleX(0.7121)">6</div>
<div class="t n g" style="left:1327.96px;top:620.47px;font-size:20px;transform:scaleX(0.8712)">8</div>
<div class="t n g" style="left:1370.27px;top:620.47px;font-size:20px;transform:scaleX(0.7879)">8</div>
<div class="t n g" style="left:1411.68px;top:620.47px;font-size:20px;transform:scaleX(0.7121)">9</div>
<div class="t n g" style="left:1453.17px;top:620.47px;font-size:20px;transform:scaleX(0.7879)">9</div>
<div class="t n g" style="left:1492.98px;top:620.47px;font-size:20px;transform:scaleX(0.9826)">Q</div>
<div class="t n g" style="left:1538.91px;top:620.47px;font-size:20px;transform:scaleX(0.8256)">Q</div>
<div class="t" style="left:1581.70px;top:620.92px;font-size:19px;transform:scaleX(0.9333)">)</div>
<div class="t" style="left:907.53px;top:646.02px;font-size:19px;transform:scaleX(1.0200)">-13 lá bài cùng màu</div>
<div class="t" style="left:1148.49px;top:646.02px;font-size:19px;transform:scaleX(0.9834)">hoặc</div>
<div class="t" style="left:1253.72px;top:646.02px;font-size:19px;transform:scaleX(1.0156)">(gọi là đồng chất hay đồng hoa)</div>
<div class="t" style="left:907.44px;top:671.02px;font-size:19px;transform:scaleX(0.9571)">-Sảnh rồng (từ</div>
<div class="t g" style="left:1043.79px;top:671.02px;font-size:19px;transform:scaleX(0.9962)">3 tới A)</div>
<div class="t" style="left:907.50px;top:696.02px;font-size:19px;transform:scaleX(0.9975)">-Sảnh rồng đồng hoa là mạnh nhất: ( từ 3 tới A cùng chất</div>
<div class="t" style="left:1460.80px;top:696.02px;font-size:19px;transform:scaleX(1.2000)">/</div>
<div class="t" style="left:1509.38px;top:696.02px;font-size:19px;transform:scaleX(1.5889)">/</div>
<div class="t" style="left:1560.18px;top:696.02px;font-size:19px;transform:scaleX(0.9598)">hoặc</div>
<div class="t" style="left:1648.12px;top:696.02px;font-size:19px;transform:scaleX(0.9444)">)</div>
<div class="t" style="left:907.51px;top:721.02px;font-size:19px;transform:scaleX(1.0076)">-Nếu trong bàn có 2 người chơi tới trắng thì chỉ tính một, người chơi nào bài cao hơn thì ăn hết</div>
<div class="t" style="left:907.51px;top:746.12px;font-size:19px;transform:scaleX(1.0038)">-Nếu trong bàn có 2 người chơi tới trắng cùng 1 tổ hợp bài thì người nào có chất,</div>
<div class="t g" style="left:1656.51px;top:746.12px;font-size:19px;transform:scaleX(0.8706)">A</div>
<div class="t" style="left:1680.06px;top:746.12px;font-size:19px;transform:scaleX(0.9742)">cao hơn thì ăn hết</div>
<div class="t" style="left:907.49px;top:802.88px;font-size:22px;transform:scaleX(0.9779)">LUẬT TÍNH TIỀN</div>
<div class="u" style="left:907.00px;top:823.70px;width:169.60px"></div>
<div class="t" style="left:907.49px;top:859.72px;font-size:19px;transform:scaleX(0.9918)">-Đối với các trường hợp Ăn Trắng, Chặt Heo hay Thối Hàng.... sẽ có cách tính sau:</div>
<div class="t" style="left:907.44px;top:884.92px;font-size:19px;transform:scaleX(0.9623)">+Heo Đỏ: Phạt</div>
<div class="t g" style="left:1040.23px;top:884.92px;font-size:19px;transform:scaleX(0.9509)">6 lá</div>
<div class="t" style="left:907.46px;top:910.02px;font-size:19px;transform:scaleX(0.9750)">+Heo Đen: Phạt</div>
<div class="t g" style="left:1052.11px;top:910.02px;font-size:19px;transform:scaleX(0.9367)">3 lá</div>
<div class="t" style="left:907.47px;top:935.22px;font-size:19px;transform:scaleX(0.9821)">-Thối Ba Đôi Thông: Phạt</div>
<div class="t g" style="left:1154.20px;top:935.22px;font-size:19px;transform:scaleX(0.7972)">6 lá</div>
<div class="t" style="left:907.45px;top:960.32px;font-size:19px;transform:scaleX(0.9639)">-Thối Tứ Quý: Phạt</div>
<div class="t g" style="left:1084.42px;top:960.32px;font-size:19px;transform:scaleX(0.8436)">10 lá</div>
<div class="t" style="left:907.47px;top:985.42px;font-size:19px;transform:scaleX(0.9776)">-Thối Tứ Đôi Thông: Phạt</div>
<div class="t g" style="left:1142.42px;top:985.42px;font-size:19px;transform:scaleX(0.8458)">10 lá</div>
<div class="t" style="left:907.50px;top:1010.62px;font-size:19px;transform:scaleX(1.0019)">-Thua Cóng: Phạt 26 lá và bị kiểm bài, đếm số lượng "heo", "hàng" còn trên bài để phạt thêm.</div>
<div class="t" style="left:907.50px;top:1035.72px;font-size:19px;transform:scaleX(0.9922)">Người ăn cóng là người tới nhất.</div>
<div class="t" style="left:907.48px;top:1060.92px;font-size:19px;transform:scaleX(0.9850)">-Ăn Trắng: Các người chơi còn lại mỗi người bị phạt</div>
<div class="t g" style="left:1382.48px;top:1060.92px;font-size:19px;transform:scaleX(0.9849)">26 lá</div>
<div class="t" style="left:907.51px;top:1086.02px;font-size:19px;transform:scaleX(1.0074)">-Bị Đút 3 Bích: Phạt gấp đôi số lá bài đang còn lại trên tay.</div>
<div class="t g" style="left:908.30px;top:1136.42px;font-size:19px;transform:scaleX(1.0091)">Mỗi lá bài là 1 lần tiền cược- Mọi thắc mắc về luật game bài bạn có thể liên hệ hỗ trợ viên để được giải đáp.</div>
</div>
<svg class="i" style="left:1462.70px;top:201.20px" width="27.90" height="28.80" viewBox="0 0 28.3 28.3" preserveAspectRatio="none"><use href="#s"/></svg>
<svg class="i" style="left:1577.80px;top:201.20px" width="29.20" height="28.80" viewBox="0 0 29.4 29.4" preserveAspectRatio="none"><use href="#c"/></svg>
<svg class="i" style="left:1657.50px;top:201.50px" width="25.30" height="29.00" viewBox="0 0 25 28.3" preserveAspectRatio="none"><use href="#d"/></svg>
<svg class="i" style="left:1731.00px;top:203.00px" width="30.00" height="26.00" viewBox="0 0 31 26.3" preserveAspectRatio="none"><use href="#h"/></svg>
<svg class="i" style="left:1067.00px;top:491.60px" width="25.50" height="24.40" viewBox="0 0 28.3 28.3" preserveAspectRatio="none"><use href="#s2"/></svg>
<svg class="i" style="left:1038.80px;top:518.00px" width="21.70" height="23.50" viewBox="0 0 28.3 28.3" preserveAspectRatio="none"><use href="#s2"/></svg>
<svg class="i" style="left:1080.00px;top:518.00px" width="23.80" height="23.50" viewBox="0 0 29.4 29.4" preserveAspectRatio="none"><use href="#c2"/></svg>
<svg class="i" style="left:1122.70px;top:518.00px" width="20.70" height="24.50" viewBox="0 0 25 28.3" preserveAspectRatio="none"><use href="#d2"/></svg>
<svg class="i" style="left:1162.00px;top:518.00px" width="27.50" height="23.50" viewBox="0 0 31 26.3" preserveAspectRatio="none"><use href="#h2"/></svg>
<svg class="i" style="left:1089.00px;top:567.65px" width="25.00" height="23.50" viewBox="0 0 28.3 28.3" preserveAspectRatio="none"><use href="#s2"/></svg>
<svg class="i" style="left:1130.30px;top:567.15px" width="23.40" height="24.50" viewBox="0 0 25 28.3" preserveAspectRatio="none"><use href="#d2"/></svg>
<svg class="i" style="left:1171.50px;top:567.65px" width="23.50" height="23.50" viewBox="0 0 29.4 29.4" preserveAspectRatio="none"><use href="#c2"/></svg>
<svg class="i" style="left:1213.50px;top:567.90px" width="27.50" height="23.00" viewBox="0 0 31 26.3" preserveAspectRatio="none"><use href="#h2"/></svg>
<svg class="i" style="left:1259.00px;top:567.65px" width="22.30" height="23.50" viewBox="0 0 29.4 29.4" preserveAspectRatio="none"><use href="#c2"/></svg>
<svg class="i" style="left:1300.00px;top:567.15px" width="22.50" height="24.50" viewBox="0 0 25 28.3" preserveAspectRatio="none"><use href="#d2"/></svg>
<svg class="i" style="left:1343.00px;top:567.65px" width="21.70" height="23.50" viewBox="0 0 28.3 28.3" preserveAspectRatio="none"><use href="#s2"/></svg>
<svg class="i" style="left:1383.50px;top:567.90px" width="26.50" height="23.00" viewBox="0 0 31 26.3" preserveAspectRatio="none"><use href="#h2"/></svg>
<svg class="i" style="left:1429.70px;top:567.65px" width="21.70" height="23.50" viewBox="0 0 29.4 29.4" preserveAspectRatio="none"><use href="#c2"/></svg>
<svg class="i" style="left:1472.00px;top:567.15px" width="20.80" height="24.50" viewBox="0 0 25 28.3" preserveAspectRatio="none"><use href="#d2"/></svg>
<svg class="i" style="left:1089.00px;top:592.65px" width="25.00" height="23.50" viewBox="0 0 28.3 28.3" preserveAspectRatio="none"><use href="#s2"/></svg>
<svg class="i" style="left:1129.50px;top:592.90px" width="27.50" height="23.00" viewBox="0 0 31 26.3" preserveAspectRatio="none"><use href="#h2"/></svg>
<svg class="i" style="left:1171.50px;top:592.65px" width="23.50" height="23.50" viewBox="0 0 28.3 28.3" preserveAspectRatio="none"><use href="#s2"/></svg>
<svg class="i" style="left:1211.90px;top:592.65px" width="24.10" height="23.50" viewBox="0 0 29.4 29.4" preserveAspectRatio="none"><use href="#c2"/></svg>
<svg class="i" style="left:1259.70px;top:592.15px" width="21.50" height="24.50" viewBox="0 0 25 28.3" preserveAspectRatio="none"><use href="#d2"/></svg>
<svg class="i" style="left:1306.50px;top:592.90px" width="26.00" height="23.00" viewBox="0 0 31 26.3" preserveAspectRatio="none"><use href="#h2"/></svg>
<svg class="i" style="left:1352.50px;top:592.65px" width="23.00" height="23.50" viewBox="0 0 29.4 29.4" preserveAspectRatio="none"><use href="#c2"/></svg>
<svg class="i" style="left:1400.50px;top:592.15px" width="23.50" height="24.50" viewBox="0 0 25 28.3" preserveAspectRatio="none"><use href="#d2"/></svg>
<svg class="i" style="left:1455.00px;top:592.65px" width="25.60" height="23.50" viewBox="0 0 28.3 28.3" preserveAspectRatio="none"><use href="#s2"/></svg>
<svg class="i" style="left:1507.00px;top:592.15px" width="20.70" height="24.50" viewBox="0 0 25 28.3" preserveAspectRatio="none"><use href="#d2"/></svg>
<svg class="i" style="left:1550.00px;top:592.65px" width="24.00" height="23.50" viewBox="0 0 29.4 29.4" preserveAspectRatio="none"><use href="#c2"/></svg>
<svg class="i" style="left:1590.60px;top:592.90px" width="27.10" height="23.00" viewBox="0 0 31 26.3" preserveAspectRatio="none"><use href="#h2"/></svg>
<svg class="i" style="left:1090.70px;top:617.75px" width="23.30" height="23.50" viewBox="0 0 29.4 29.4" preserveAspectRatio="none"><use href="#c2"/></svg>
<svg class="i" style="left:1131.90px;top:617.25px" width="23.40" height="24.50" viewBox="0 0 25 28.3" preserveAspectRatio="none"><use href="#d2"/></svg>
<svg class="i" style="left:1171.50px;top:617.75px" width="23.50" height="23.50" viewBox="0 0 28.3 28.3" preserveAspectRatio="none"><use href="#s2"/></svg>
<svg class="i" style="left:1212.70px;top:618.00px" width="26.60" height="23.00" viewBox="0 0 31 26.3" preserveAspectRatio="none"><use href="#h2"/></svg>
<svg class="i" style="left:1255.00px;top:617.75px" width="24.00" height="23.50" viewBox="0 0 28.3 28.3" preserveAspectRatio="none"><use href="#s2"/></svg>
<svg class="i" style="left:1299.00px;top:617.25px" width="23.00" height="24.50" viewBox="0 0 25 28.3" preserveAspectRatio="none"><use href="#d2"/></svg>
<svg class="i" style="left:1343.00px;top:617.25px" width="21.70" height="24.50" viewBox="0 0 25 28.3" preserveAspectRatio="none"><use href="#d2"/></svg>
<svg class="i" style="left:1382.60px;top:618.00px" width="26.40" height="23.00" viewBox="0 0 31 26.3" preserveAspectRatio="none"><use href="#h2"/></svg>
<svg class="i" style="left:1425.00px;top:617.75px" width="21.70" height="23.50" viewBox="0 0 28.3 28.3" preserveAspectRatio="none"><use href="#s2"/></svg>
<svg class="i" style="left:1465.50px;top:617.75px" width="22.50" height="23.50" viewBox="0 0 29.4 29.4" preserveAspectRatio="none"><use href="#c2"/></svg>
<svg class="i" style="left:1512.60px;top:617.75px" width="22.60" height="23.50" viewBox="0 0 28.3 28.3" preserveAspectRatio="none"><use href="#s2"/></svg>
<svg class="i" style="left:1553.00px;top:618.00px" width="27.30" height="23.00" viewBox="0 0 31 26.3" preserveAspectRatio="none"><use href="#h2"/></svg>
<svg class="i" style="left:1091.50px;top:644.45px" width="23.50" height="24.50" viewBox="0 0 25 28.3" preserveAspectRatio="none"><use href="#d2"/></svg>
<svg class="i" style="left:1117.40px;top:645.20px" width="26.60" height="23.00" viewBox="0 0 31 26.3" preserveAspectRatio="none"><use href="#h2"/></svg>
<svg class="i" style="left:1199.70px;top:644.45px" width="23.50" height="24.50" viewBox="0 0 25 28.3" preserveAspectRatio="none"><use href="#d2"/></svg>
<svg class="i" style="left:1224.80px;top:644.45px" width="23.40" height="24.50" viewBox="0 0 25 28.3" preserveAspectRatio="none"><use href="#d2"/></svg>
<svg class="i" style="left:1430.70px;top:693.25px" width="24.00" height="23.50" viewBox="0 0 28.3 28.3" preserveAspectRatio="none"><use href="#s2"/></svg>
<svg class="i" style="left:1476.00px;top:693.25px" width="25.80" height="23.50" viewBox="0 0 29.4 29.4" preserveAspectRatio="none"><use href="#c2"/></svg>
<svg class="i" style="left:1525.70px;top:692.75px" width="24.00" height="24.50" viewBox="0 0 25 28.3" preserveAspectRatio="none"><use href="#d2"/></svg>
<svg class="i" style="left:1613.00px;top:693.50px" width="27.00" height="23.00" viewBox="0 0 31 26.3" preserveAspectRatio="none"><use href="#h2"/></svg>
<div class="tw"><div class="tt" style="left:1310.25px;top:19.75px;font-size:42px;transform:scaleX(0.5634)">TIẾN LÊN ĐẾM LÁ</div></div>
</div>
</div>
</body></html>
